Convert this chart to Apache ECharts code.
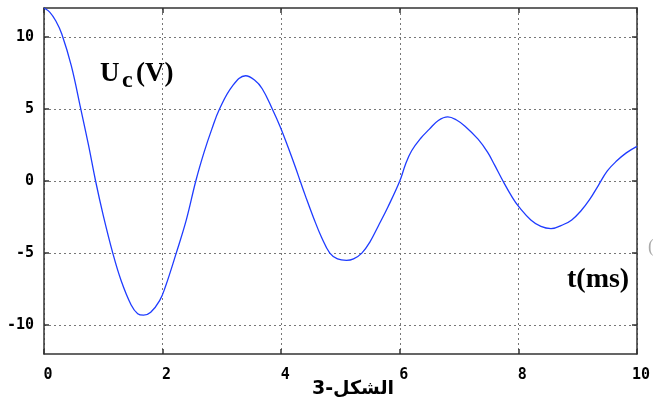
<!DOCTYPE html>
<html>
<head>
<meta charset="utf-8">
<script src="https://cdn.jsdelivr.net/npm/echarts@6/dist/echarts.min.js"></script>
<style>
html,body{margin:0;padding:0;background:#fff;}
#chart{width:653px;height:406px;}
</style>
</head>
<body>
<div id="chart"></div>
<script>
// time values (ms)
var tValues = [0, 0.1, 0.2, 0.3, 0.46, 0.62, 0.75, 0.87, 1.0, 1.16, 1.3, 1.47, 1.58, 1.68, 1.8, 1.95, 2.05, 2.23, 2.4, 2.56, 2.7, 2.83, 2.96, 3.18, 3.4, 3.55, 3.68, 3.85, 3.99, 4.12, 4.24, 4.32, 4.41, 4.55, 4.68, 4.82, 4.95, 5.1, 5.22, 5.36, 5.5, 5.64, 5.8, 6.0, 6.1, 6.2, 6.35, 6.5, 6.65, 6.81, 6.95, 7.1, 7.32, 7.48, 7.6, 7.74, 7.9, 8.01, 8.21, 8.38, 8.55, 8.77, 8.9, 9.05, 9.2, 9.35, 9.5, 9.66, 9.82, 10.0];
// capacitor voltage Uc (V)
var uValues = [12.0, 11.7, 11.1, 10.2, 8.0, 5.0, 2.5, 0, -2.4, -5.0, -6.9, -8.6, -9.2, -9.3, -9.1, -8.3, -7.3, -5.0, -2.7, 0, 2.0, 3.6, 5.0, 6.6, 7.3, 7.0, 6.4, 5.0, 3.7, 2.3, 0.95, 0, -1.05, -2.6, -3.9, -5.0, -5.4, -5.5, -5.4, -5.0, -4.2, -3.1, -1.8, 0, 1.2, 2.1, 2.95, 3.6, 4.2, 4.45, 4.25, 3.8, 2.9, 2.0, 1.1, 0, -1.15, -1.8, -2.7, -3.15, -3.3, -3.0, -2.7, -2.1, -1.3, -0.3, 0.7, 1.4, 1.95, 2.4];
var xTicks = [0, 2, 4, 6, 8, 10];
var yTicks = [-10, -5, 0, 5, 10];
var xLabel = 't(ms)';
var figLabel = 'الشكل-3';

var seriesData = tValues.map(function (t, i) { return [t, uValues[i]]; });

var labelFont = { fontFamily: 'DejaVu Sans Mono', fontWeight: 'bold', fontSize: 15, color: '#000' };
var axisLineStyle = { color: '#333', width: 1.5 };
var tickStyle = { color: '#333', width: 1.5 };
var gridStyle = { color: '#777', type: [2, 3], width: 1 };

var chart = echarts.init(document.getElementById('chart'), null, { renderer: 'canvas' });
chart.setOption({
  backgroundColor: '#fff',
  animation: false,
  grid: { left: 44, top: 8, right: 13, bottom: 52, containLabel: false },
  xAxis: [{
    type: 'value', min: 0, max: 10, interval: 2, position: 'bottom',
    axisLine: { show: true, onZero: false, lineStyle: axisLineStyle },
    axisTick: { show: true, inside: true, length: 5, lineStyle: tickStyle },
    axisLabel: Object.assign({ margin: 14, padding: [0, 0, 0, 8] }, labelFont),
    splitLine: { show: true, lineStyle: gridStyle }
  }, {
    type: 'value', min: 0, max: 10, interval: 2, position: 'top',
    axisLine: { show: true, onZero: false, lineStyle: axisLineStyle },
    axisTick: { show: true, inside: true, length: 5, lineStyle: tickStyle },
    axisLabel: { show: false },
    splitLine: { show: false }
  }],
  yAxis: [{
    type: 'value', min: -12, max: 12, position: 'left',
    axisLine: { show: true, onZero: false, lineStyle: axisLineStyle },
    axisTick: { show: true, inside: true, length: 5, customValues: yTicks, lineStyle: tickStyle },
    axisLabel: Object.assign({ margin: 10, customValues: yTicks }, labelFont),
    splitLine: { show: true, lineStyle: gridStyle }
  }, {
    type: 'value', min: -12, max: 12, position: 'right',
    axisLine: { show: true, onZero: false, lineStyle: axisLineStyle },
    axisTick: { show: true, inside: true, length: 5, customValues: yTicks, lineStyle: tickStyle },
    axisLabel: { show: false },
    splitLine: { show: false }
  }],
  series: [{
    type: 'line',
    xAxisIndex: 0, yAxisIndex: 0,
    data: seriesData,
    smooth: 0.4,
    showSymbol: false,
    lineStyle: { color: '#1f3cff', width: 1.3 }
  }],
  graphic: [
    { type: 'text', left: 100, top: 61, style: { text: 'U', font: 'bold 27px "Liberation Serif"', fill: '#000' } },
    { type: 'text', left: 122, top: 69, style: { text: 'c', font: 'bold 24px "Liberation Serif"', fill: '#000' } },
    { type: 'text', left: 136, top: 61, style: { text: '(V)', font: 'bold 27px "Liberation Serif"', fill: '#000' } },
    { type: 'text', left: 567, top: 266, style: { text: xLabel, font: 'bold 28px "Liberation Serif"', fill: '#000' } },
    { type: 'text', left: 312, top: 380, style: { text: figLabel, font: 'bold 19px "DejaVu Sans"', fill: '#000' } },
    { type: 'text', left: 648, top: 238, style: { text: '(', font: '18px "Liberation Serif"', fill: '#aaa' } }
  ]
});
</script>
</body>
</html>
